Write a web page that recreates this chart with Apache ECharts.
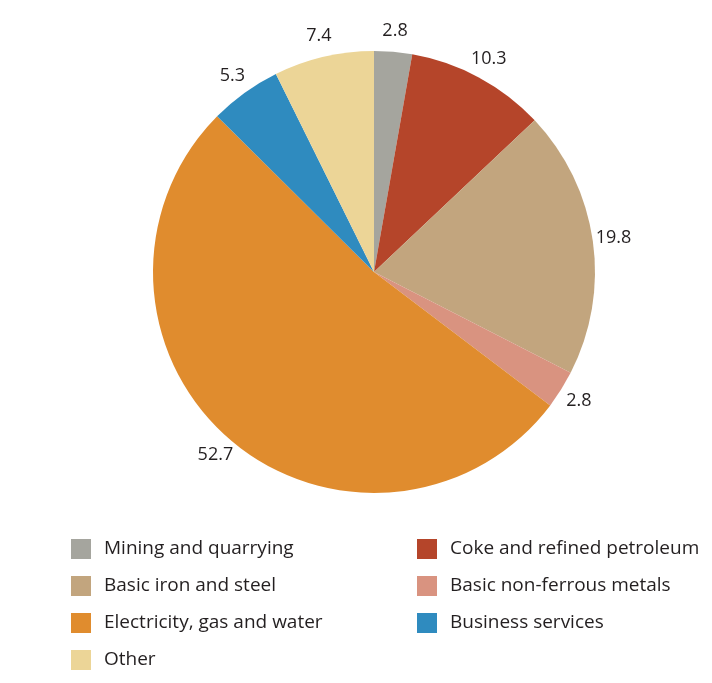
<!DOCTYPE html>
<html>
<head>
<meta charset="utf-8">
<script src="https://cdn.jsdelivr.net/npm/echarts@6/dist/echarts.min.js"></script>
<style>
  html, body { margin: 0; padding: 0; background: #ffffff; }
  #chart { width: 712px; height: 683px; }
</style>
</head>
<body>
<div id="chart"></div>
<script>
// Shares by sector, clockwise from 12 o'clock
const sectors = [
  'Mining and quarrying',
  'Coke and refined petroleum',
  'Basic iron and steel',
  'Basic non-ferrous metals',
  'Electricity, gas and water',
  'Business services',
  'Other'
];
const shares = [2.8, 10.3, 19.8, 2.8, 52.7, 5.3, 7.4];
const sectorColors = ['#a5a59e', '#b5452a', '#c2a57e', '#d99380', '#e08c2e', '#2f8bbf', '#ecd597'];

// Legend columns
const legendLeft = ['Mining and quarrying', 'Basic iron and steel', 'Electricity, gas and water', 'Other'];
const legendRight = ['Coke and refined petroleum', 'Basic non-ferrous metals', 'Business services'];

const fontFamily = '"Open Sans", sans-serif';
const pieCenter = [374, 272];

const chart = echarts.init(document.getElementById('chart'));
const legendCommon = {
  orient: 'vertical',
  itemWidth: 20,
  itemHeight: 20,
  itemGap: 17,
  icon: 'rect',
  textStyle: { fontSize: 19, color: '#231f20', fontFamily: fontFamily, padding: [0, 0, 0, 8] },
  selectedMode: false
};
const pieData = sectors.map((name, i) => ({ name: name, value: shares[i] }));

chart.setOption({
  animation: false,
  backgroundColor: '#ffffff',
  color: sectorColors,
  legend: [
    Object.assign({ data: legendLeft, left: 66, top: 534 }, legendCommon),
    Object.assign({ data: legendRight, left: 412, top: 534 }, legendCommon)
  ],
  series: [
    {
      // the slices
      type: 'pie',
      center: pieCenter,
      radius: 221,
      startAngle: 90,
      clockwise: true,
      itemStyle: { borderWidth: 0 },
      label: { show: false },
      labelLine: { show: false },
      emphasis: { disabled: true },
      data: pieData
    },
    {
      // value labels centred on a ring just outside the pie
      type: 'pie',
      center: pieCenter,
      radius: [222, 256],
      startAngle: 90,
      clockwise: true,
      silent: true,
      itemStyle: { color: 'rgba(0,0,0,0)', borderWidth: 0 },
      label: {
        show: true,
        position: 'inside',
        formatter: p => p.value.toFixed(1),
        fontSize: 18,
        color: '#231f20',
        fontFamily: fontFamily
      },
      labelLine: { show: false },
      emphasis: { disabled: true },
      data: pieData
    }
  ]
});
</script>
</body>
</html>
